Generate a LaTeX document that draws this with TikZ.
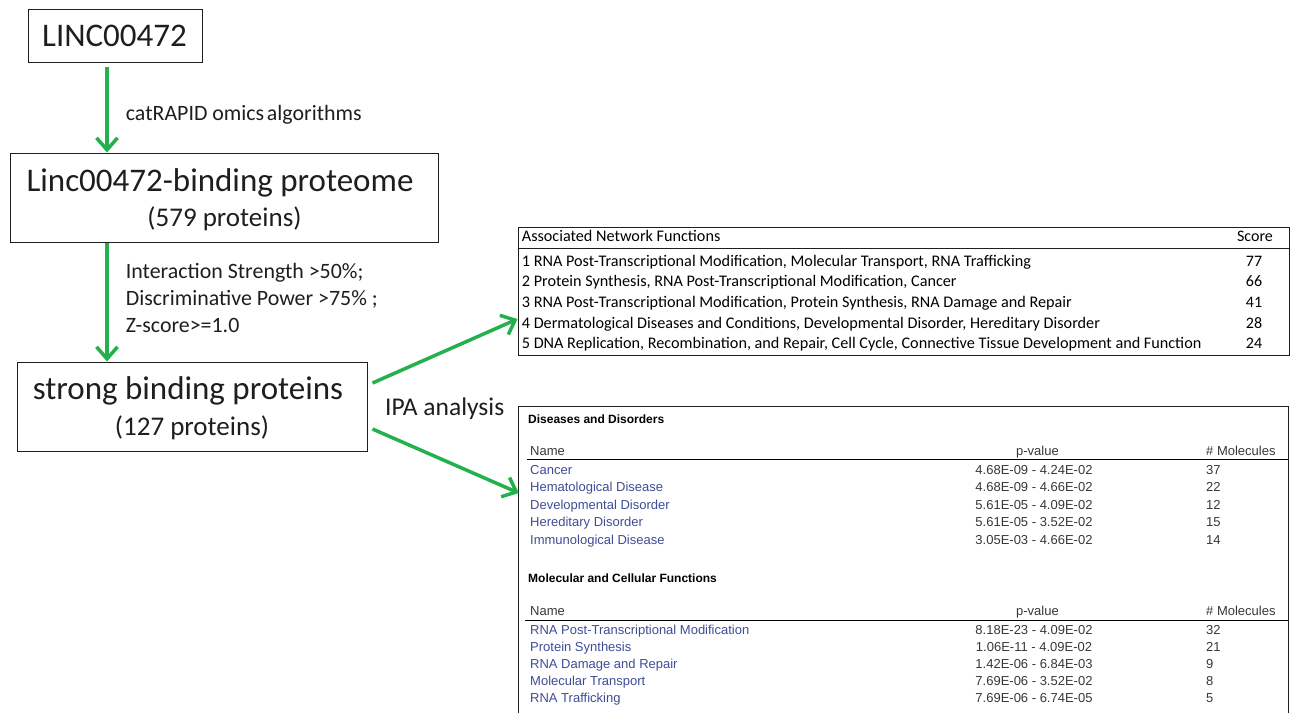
\documentclass[tikz,border=0pt]{standalone}
\usepackage{fontspec}
\setmainfont{Carlito}
\newfontfamily\ipafont{Liberation Sans}
\usetikzlibrary{arrows.meta,calc}
\definecolor{flowgreen}{RGB}{35,177,77}
\definecolor{ipablue}{RGB}{62,76,150}
\definecolor{ipagrey}{RGB}{55,55,55}
\definecolor{inkdark}{RGB}{30,30,30}
\begin{document}
\begin{tikzpicture}[x=1pt,y=-1pt,
  frame/.style={draw=inkdark, line width=1pt, inner sep=0pt},
  bigtxt/.style={anchor=base, inner sep=0pt, text=inkdark, font=\fontsize{33}{36}\selectfont},
  subtxt/.style={anchor=base, inner sep=0pt, text=inkdark, font=\fontsize{27}{30}\selectfont},
  note/.style={anchor=base west, inner sep=0pt, text=inkdark, font=\fontsize{21.9}{24}\selectfont},
  flow/.style={draw=flowgreen, line width=3.5pt,
    -{Straight Barb[length=12pt,width=21pt]}},
  nettxt/.style={anchor=base west, inner sep=0pt, text=black, font=\fontsize{16.2}{18}\selectfont},
  netnum/.style={anchor=base, inner sep=0pt, text=black, font=\fontsize{16}{18}\selectfont},
  ipahead/.style={anchor=base west, inner sep=0pt, text=black, font=\ipafont\bfseries\fontsize{12}{14}\selectfont},
  ipacol/.style={inner sep=0pt, text=ipagrey, font=\ipafont\fontsize{13}{15}\selectfont},
  ipaname/.style={anchor=base west, inner sep=0pt, text=ipablue, font=\ipafont\fontsize{13}{15}\selectfont},
]
\useasboundingbox (0,0) rectangle (1291,713);

% ---------- pipeline boxes ----------
\node[frame, minimum width=174pt, minimum height=53pt] (b1) at (115,35.5) {};
\node[bigtxt] (b1t) at (114.5,46.7) {LINC00472};

\node[frame, minimum width=428pt, minimum height=89pt] (b2) at (224,197.5) {};
\node[bigtxt] (b2t) at (220,191) {Linc00472-binding proteome};
\node[subtxt] (b2s) at (224.5,226) {(579 proteins)};

\node[frame, minimum width=350pt, minimum height=89pt] (b3) at (192,406.5) {};
\node[bigtxt] (b3t) at (188,399) {strong binding proteins};
\node[subtxt] (b3s) at (192,435) {(127 proteins)};

% ---------- step labels ----------
\node[note] (l1) at (125.7,120) {catRAPID omics\hspace{0.12em}algorithms};
\node[note] (l2) at (125.7,278) {Interaction Strength >50\%;};
\node[note] (l3) at (125.7,305) {Discriminative Power >75\% ;};
\node[note] (l4) at (125.7,332) {Z-score>=1.0};
\node[note, font=\fontsize{25.5}{28}\selectfont] (l5) at (385,415) {IPA analysis};

% ---------- network functions table ----------
\node[frame, minimum width=771pt, minimum height=128pt] (t1) at (903.5,291) {};
\draw[inkdark, line width=1pt] (t1.west |- 0,248) -- (t1.east |- 0,248);
\node[nettxt] (t1h) at (521.7,241.7) {Associated Network Functions};
\node[netnum] (t1s) at (1255,241.7) {Score};
\foreach \i/\txt/\sc/\y in {
  1/{RNA Post-Transcriptional Modification, Molecular Transport, RNA Trafficking}/77/266.7,
  2/{Protein Synthesis, RNA Post-Transcriptional Modification, Cancer}/66/286.5,
  3/{RNA Post-Transcriptional Modification, Protein Synthesis, RNA Damage and Repair}/41/307.3,
  4/{Dermatological Diseases and Conditions, Developmental Disorder, Hereditary Disorder}/28/328,
  5/{DNA Replication, Recombination, and Repair, Cell Cycle, Connective Tissue Development and Function}/24/348.3}
{
  \node[nettxt] (f\i) at (521.7,\y) {\i\ \txt};
  \node[netnum] (s\i) at (1254,\y) {\sc};
}

% ---------- IPA summary table (runs past the lower edge) ----------
\node[inner sep=0pt, minimum width=769pt, minimum height=306pt] (t2) at (903.5,560) {};
\draw[inkdark, line width=1.2pt] (t2.south west) -- (t2.north west) -- (t2.north east) -- (t2.south east);

\node[ipahead] (d0) at (528,423) {Diseases and Disorders};
\node[ipacol, anchor=base west] (d1) at (530,455) {Name};
\node[ipacol, anchor=base] (d2) at (1037.5,455) {p-value};
\node[ipacol, anchor=base west] (d3) at (1206,455) {\# Molecules};
\draw[black, line width=1pt] (527,459.5) -- (t2.east |- 0,459.5);
\foreach \i/\nm/\pv/\mol/\y in {
  1/Cancer/4.68E-09 - 4.24E-02/37/474,
  2/Hematological Disease/4.68E-09 - 4.66E-02/22/491.5,
  3/Developmental Disorder/5.61E-05 - 4.09E-02/12/509,
  4/Hereditary Disorder/5.61E-05 - 3.52E-02/15/526.5,
  5/Immunological Disease/3.05E-03 - 4.66E-02/14/544}
{
  \node[ipaname] (dn\i) at (530,\y) {\nm};
  \node[ipacol, anchor=base] (dp\i) at (1034,\y) {\pv};
  \node[ipacol, anchor=base west] (dm\i) at (1206,\y) {\mol};
}

\node[ipahead] (m0) at (528,582.7) {Molecular and Cellular Functions};
\node[ipacol, anchor=base west] (m1) at (530,615) {Name};
\node[ipacol, anchor=base] (m2) at (1037.5,615) {p-value};
\node[ipacol, anchor=base west] (m3) at (1206,615) {\# Molecules};
\draw[black, line width=1pt] (525,620) -- (t2.east |- 0,620);
\foreach \i/\nm/\pv/\mol/\y in {
  1/RNA Post-Transcriptional Modification/8.18E-23 - 4.09E-02/32/634,
  2/Protein Synthesis/1.06E-11 - 4.09E-02/21/651.2,
  3/RNA Damage and Repair/1.42E-06 - 6.84E-03/9/668.4,
  4/Molecular Transport/7.69E-06 - 3.52E-02/8/685.6,
  5/RNA Trafficking/7.69E-06 - 6.74E-05/5/702.8}
{
  \node[ipaname] (mn\i) at (530,\y) {\nm};
  \node[ipacol, anchor=base] (mp\i) at (1034,\y) {\pv};
  \node[ipacol, anchor=base west] (mm\i) at (1206,\y) {\mol};
}

% ---------- connectors ----------
\draw[flow, shorten <=4pt] ([xshift=-8pt]b1.south) -- ([xshift=-8pt]b1.south |- b2.north);
\draw[flow] ([xshift=-117pt]b2.south) -- ([xshift=-117pt]b2.south |- b3.north);
\draw[flow] ([shift={(5pt,23.5pt)}]b3.east) -- ([yshift=-28pt]t1.west);
\draw[flow] ([shift={(5pt,-22.5pt)}]b3.east) -- ([yshift=67pt]t2.west);
\end{tikzpicture}
\end{document}
